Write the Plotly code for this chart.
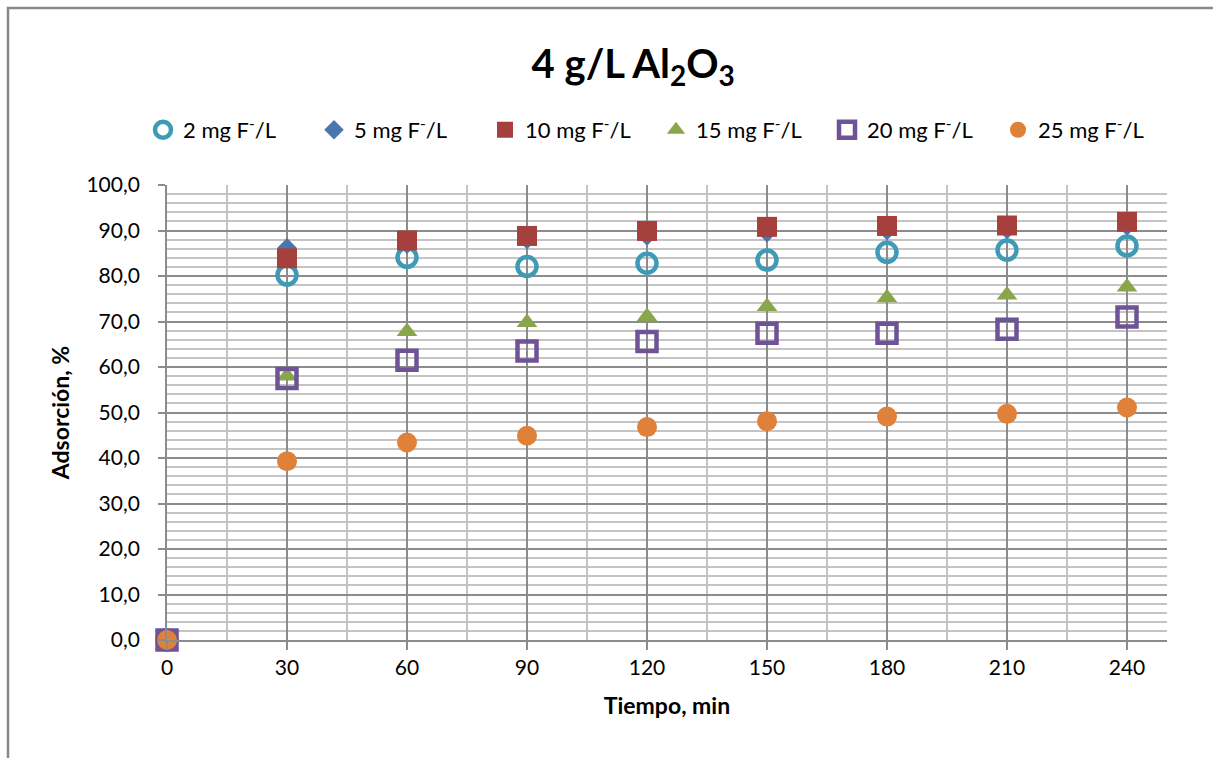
import plotly.graph_objects as go

# Contact time (min)
tiempo = [0, 30, 60, 90, 120, 150, 180, 210, 240]

# Fluoride removal (%) for each initial concentration, 4 g/L Al2O3
ads_2 = [0.0, 80.2, 84.1, 82.1, 82.8, 83.5, 85.2, 85.7, 86.6]
ads_5 = [0.0, 86.2, 87.0, 88.0, 88.8, 89.5, 90.0, 90.2, 91.0]
ads_10 = [0.0, 83.9, 87.8, 88.8, 89.9, 90.8, 91.0, 91.1, 91.9]
ads_15 = [0.0, 58.0, 67.8, 69.8, 71.1, 73.3, 75.2, 75.8, 77.6]
ads_20 = [0.0, 57.5, 61.5, 63.5, 65.6, 67.4, 67.4, 68.3, 71.0]
ads_25 = [0.0, 39.3, 43.4, 44.9, 46.8, 48.1, 49.1, 49.7, 51.1]

series_names = [
    "2 mg F<sup>-</sup>/L",
    "5 mg F<sup>-</sup>/L",
    "10 mg F<sup>-</sup>/L",
    "15 mg F<sup>-</sup>/L",
    "20 mg F<sup>-</sup>/L",
    "25 mg F<sup>-</sup>/L",
]

FONT = "Lato, 'Liberation Sans', sans-serif"

styles = [
    dict(symbol="circle-open", size=19, color="#3E9BB6", line=dict(width=4.5, color="#3E9BB6")),
    dict(symbol="diamond", size=15, color="#4A76B0"),
    dict(symbol="square", size=20, color="#A6403D"),
    dict(symbol="triangle-up", size=18, color="#8AA64A"),
    dict(symbol="square-open", size=19, color="#6E5397", line=dict(width=4.5, color="#6E5397")),
    dict(symbol="circle", size=20, color="#DF8139"),
]

fig = go.Figure()
for name, ys, mk in zip(series_names, [ads_2, ads_5, ads_10, ads_15, ads_20, ads_25], styles):
    fig.add_trace(go.Scatter(
        x=tiempo, y=ys, mode="markers", name=name,
        marker=mk, cliponaxis=False,
    ))

fig.update_layout(
    width=1213, height=758,
    margin=dict(l=167, r=46, t=185, b=118),
    paper_bgcolor="white", plot_bgcolor="white",
    font=dict(family=FONT, size=21, color="black"),
    separators=",.",
    title=dict(
        text="<b>4 g/L Al<sub>2</sub>O<sub>3</sub></b>",
        font=dict(family=FONT, size=40, color="black"),
        x=0.522, xanchor="center", xref="container",
        y=1 - 64 / 758, yanchor="middle", yref="container",
    ),
    legend=dict(
        orientation="h", x=-0.024, xanchor="left", y=1.121, yanchor="middle",
        font=dict(family=FONT, size=22, color="black"),
        entrywidth=126, bgcolor="rgba(0,0,0,0)",
    ),
    showlegend=True,
)

fig.update_xaxes(
    range=[0, 250], dtick=30, tick0=0,
    showgrid=True, gridcolor="#8C8C8C", gridwidth=1.8,
    minor=dict(dtick=15, tick0=0, showgrid=True, gridcolor="#C4C4C4", gridwidth=1.8),
    ticks="outside", ticklen=8, tickwidth=1.8, tickcolor="#8C8C8C",
    showline=True, linecolor="#8C8C8C", linewidth=1.8,
    zeroline=False,
    tickfont=dict(family=FONT, size=21),
    title=dict(text="<b>Tiempo, min</b>", font=dict(family=FONT, size=23), standoff=20),
)

fig.update_yaxes(
    range=[0, 100], dtick=10, tick0=0, tickformat=".1f",
    showgrid=True, gridcolor="#8C8C8C", gridwidth=1.8,
    minor=dict(dtick=2, tick0=0, showgrid=True, gridcolor="#C4C4C4", gridwidth=1.8),
    ticks="outside", ticklen=7, tickwidth=1.8, tickcolor="#8C8C8C",
    showline=True, linecolor="#8C8C8C", linewidth=1.8,
    zeroline=False,
    tickfont=dict(family=FONT, size=21),
    ticklabelstandoff=14,
    title=dict(text="<b>Adsorción, %</b>", font=dict(family=FONT, size=23), standoff=10),
)

# Chart frame (only the top and left edges fall inside the page)
fig.add_shape(
    type="rect", xref="paper", yref="paper",
    x0=(8 - 167) / 1000, x1=1.3, y0=-0.6, y1=(640 - 8) / 455,
    line=dict(color="#888888", width=2.5), fillcolor="rgba(0,0,0,0)", layer="below",
)

fig.write_html("out.html")
